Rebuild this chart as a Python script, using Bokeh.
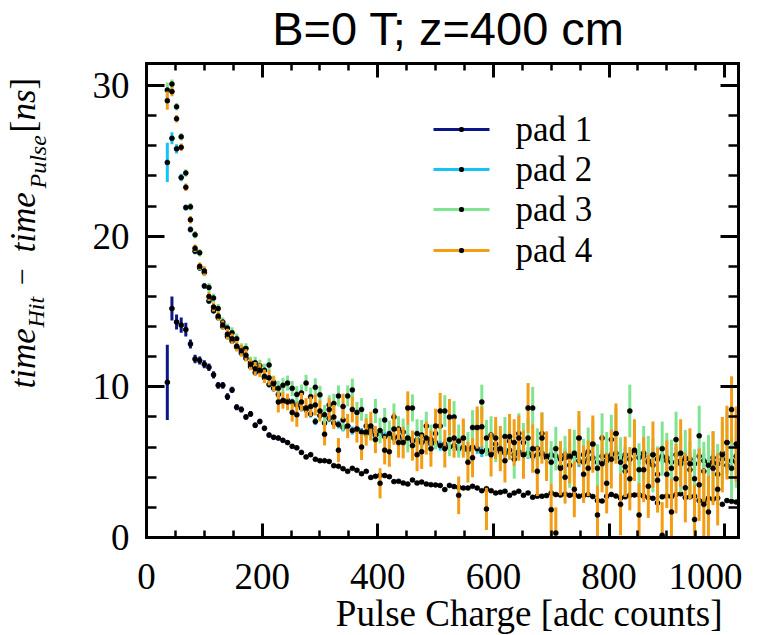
import numpy as np
from bokeh.plotting import figure
from bokeh.models import (LinearAxis, SingleIntervalTicker, Label, BoxAnnotation,
                          ColumnDataSource, Range1d)
from bokeh.embed import file_html
from bokeh.resources import INLINE

# ---------------- data ----------------
BIN_CENTERS = list(range(36, 1021, 8))   # adc counts, bins of 8
HALF_BIN = 4

PAD1_Y = [
    10.3, 15.2, 14.3, 14.1, 13.8, 12.85, 11.85, 11.75, 11.5, 11.3,
    10.8, 10.1, 10.1, 9.35, 9.8, 8.65, 8.5, 8.0, 8.2, 7.45,
    7.7, 7.25, 6.8, 6.65, 6.6, 6.45, 6.3, 6.05, 5.95, 5.65,
    5.35, 5.5, 5.2, 5.1, 5.1, 5.05, 4.77, 4.73, 4.57, 4.39,
    4.59, 4.46, 4.24, 4.39, 3.99, 4.06, 4.13, 4.11, 4.04, 3.71,
    3.73, 3.62, 3.55, 3.82, 3.62, 3.68, 3.55, 3.51, 3.49, 3.46,
    3.18, 3.46, 3.38, 3.33, 3.29, 3.29, 3.40, 3.29, 3.11, 3.24,
    3.11, 2.96, 3.00, 3.07, 2.80, 2.96, 3.07, 2.80, 2.96, 2.67,
    2.74, 2.74, 2.78, 2.95, 2.85, 2.82, 2.88, 2.80, 2.85, 2.74,
    2.80, 2.85, 2.72, 2.45, 2.42, 2.74, 2.86, 2.75, 2.62, 2.70,
    2.80, 2.82, 2.85, 2.74, 2.65, 2.60, 2.30, 2.70, 2.75, 2.72,
    2.85, 2.90, 2.65, 2.70, 2.74, 2.45, 2.40, 2.60, 2.55, 2.62,
    2.20, 2.45, 2.40, 2.35,
]
PAD1_ERR = [
    2.5, 0.8, 0.5, 0.5, 0.45, 0.3, 0.28, 0.27, 0.26, 0.25,
    0.24, 0.23, 0.22, 0.22, 0.21, 0.2, 0.2, 0.19, 0.19, 0.18,
    0.18, 0.17, 0.17, 0.16, 0.16, 0.16, 0.15, 0.15, 0.15, 0.14,
    0.14, 0.14, 0.14, 0.13, 0.13, 0.13, 0.13, 0.13, 0.13, 0.13,
    0.12, 0.12, 0.12, 0.12, 0.12, 0.12, 0.12, 0.12, 0.12, 0.12,
    0.12, 0.12, 0.12, 0.12, 0.12, 0.12, 0.12, 0.12, 0.12, 0.12,
    0.12, 0.12, 0.12, 0.12, 0.12, 0.12, 0.12, 0.12, 0.12, 0.12,
    0.12, 0.12, 0.12, 0.12, 0.12, 0.12, 0.12, 0.12, 0.12, 0.12,
    0.12, 0.12, 0.12, 0.12, 0.12, 0.12, 0.12, 0.12, 0.12, 0.12,
    0.12, 0.12, 0.12, 0.12, 0.12, 0.12, 0.12, 0.12, 0.12, 0.12,
    0.12, 0.12, 0.12, 0.12, 0.12, 0.12, 0.12, 0.12, 0.12, 0.12,
    0.12, 0.12, 0.12, 0.12, 0.12, 0.12, 0.12, 0.12, 0.12, 0.12,
    0.12, 0.12, 0.12, 0.12,
]

PAD2_Y = [
    24.9, 26.5, 25.8, 23.9, 21.9, 20.45, 19.0, 17.9, 16.7, 15.7,
    15.05, 14.6, 14.0, 13.35, 13.05, 12.65, 12.25, 11.9, 11.35, 10.95,
    11.05, 10.6, 10.15, 9.9, 9.5, 9.05, 9.1, 9.0, 8.8, 8.6,
    8.5, 8.2, 7.7, 8.1, 7.6, 7.9, 7.6, 7.5, 7.3, 7.4,
    7.1, 7.2, 7.0, 6.9, 7.0, 6.8, 6.9, 6.7, 6.8, 6.6,
    6.7, 6.5, 6.6, 6.4, 6.5, 6.3, 6.4, 6.2, 6.3, 6.1,
    6.2, 6.0, 6.1, 5.9, 6.0, 5.8, 6.0, 5.9, 5.7, 5.8,
    5.6, 5.9, 5.7, 5.6, 5.8, 5.5, 5.7, 5.5, 5.6, 5.4,
    5.5, 5.6, 5.3, 5.5, 5.4, 5.2, 5.5, 5.3, 5.4, 5.1,
    5.5, 5.2, 5.3, 5.0, 5.4, 5.1, 5.5, 5.6, 5.3, 5.5,
    5.2, 5.6, 5.3, 5.4, 5.1, 5.5, 5.2, 5.4, 5.3, 5.0,
    5.5, 5.1, 5.3, 5.2, 4.9, 5.4, 5.1, 5.0, 5.3, 4.9,
    5.2, 4.8, 5.1, 5.0,
]
PAD2_ERR = [
    1.3, 0.4, 0.3, 0.25, 0.2, 0.2, 0.2, 0.2, 0.2, 0.2,
    0.2, 0.2, 0.2, 0.2, 0.2, 0.2, 0.2, 0.2, 0.2, 0.2,
    0.2, 0.2, 0.2, 0.22, 0.22, 0.22, 0.22, 0.22, 0.24, 0.24,
    0.24, 0.24, 0.24, 0.25, 0.25, 0.25, 0.25, 0.26, 0.26, 0.26,
    0.27, 0.27, 0.27, 0.28, 0.28, 0.28, 0.29, 0.29, 0.29, 0.3,
    0.3, 0.3, 0.3, 0.31, 0.31, 0.31, 0.32, 0.32, 0.32, 0.33,
    0.33, 0.33, 0.34, 0.34, 0.34, 0.35, 0.35, 0.35, 0.36, 0.36,
    0.36, 0.37, 0.37, 0.37, 0.38, 0.38, 0.38, 0.39, 0.39, 0.39,
    0.4, 0.4, 0.4, 0.41, 0.41, 0.41, 0.42, 0.42, 0.42, 0.43,
    0.43, 0.43, 0.44, 0.44, 0.44, 0.45, 0.45, 0.45, 0.46, 0.46,
    0.46, 0.47, 0.47, 0.47, 0.48, 0.48, 0.48, 0.49, 0.49, 0.49,
    0.5, 0.5, 0.5, 0.51, 0.51, 0.51, 0.52, 0.52, 0.52, 0.53,
    0.53, 0.53, 0.54, 0.54,
]

PAD3_Y = [
    29.7, 30.1, 28.6, 26.6, 24.2, 21.95, 20.1, 18.9, 17.6, 16.6,
    15.9, 15.2, 14.3, 13.9, 13.6, 13.2, 12.55, 12.55, 11.6, 11.6,
    11.4, 11.1, 11.45, 10.3, 9.9, 10.1, 10.25, 9.9, 9.5, 9.6,
    10.25, 9.35, 9.97, 9.47, 8.15, 8.8, 8.9, 9.4, 7.8, 9.4,
    9.8, 8.3, 8.5, 7.4, 7.2, 8.4, 7.1, 7.8, 6.9, 8.0,
    7.2, 7.0, 6.6, 8.6, 6.9, 6.8, 7.4, 6.5, 6.9, 7.4,
    8.4, 6.5, 8.0, 6.4, 6.6, 5.9, 7.3, 7.3, 9.0, 6.6,
    6.8, 6.2, 5.8, 6.7, 6.4, 5.2, 6.9, 6.3, 6.6, 8.6,
    5.9, 6.9, 5.4, 5.0, 5.9, 4.7, 5.3, 4.8, 5.6, 6.6,
    5.0, 5.7, 6.2, 4.6, 6.6, 5.4, 6.5, 6.9, 5.0, 4.4,
    8.4, 5.7, 4.5, 5.6, 5.0, 4.8, 4.2, 5.9, 5.1, 4.6,
    6.5, 4.9, 5.2, 4.5, 3.9, 6.75, 4.4, 4.8, 5.0, 4.2,
    5.6, 6.3, 4.6, 5.4,
]
PAD3_ERR = [
    0.5, 0.3, 0.25, 0.25, 0.25, 0.25, 0.25, 0.25, 0.25, 0.3,
    0.3, 0.3, 0.3, 0.3, 0.35, 0.35, 0.35, 0.35, 0.4, 0.4,
    0.4, 0.45, 0.45, 0.45, 0.5, 0.5, 0.5, 0.5, 0.55, 0.55,
    0.55, 0.6, 0.6, 0.6, 0.65, 0.65, 0.65, 0.7, 0.7, 0.7,
    0.75, 0.7, 0.75, 0.8, 0.75, 0.8, 0.85, 0.8, 0.85, 0.9,
    0.85, 0.9, 0.95, 0.9, 0.95, 1.0, 0.95, 1.0, 1.05, 1.0,
    1.05, 1.1, 1.05, 1.1, 1.15, 1.1, 1.15, 1.2, 1.15, 1.2,
    1.25, 1.2, 1.25, 1.3, 1.25, 1.3, 1.35, 1.3, 1.35, 1.4,
    1.35, 1.4, 1.45, 1.4, 1.45, 1.5, 1.45, 1.5, 1.55, 1.5,
    1.55, 1.6, 1.55, 1.6, 1.65, 1.6, 1.65, 1.7, 1.65, 1.7,
    1.75, 1.7, 1.75, 1.8, 1.75, 1.8, 1.85, 1.8, 1.85, 1.9,
    1.85, 1.9, 1.95, 1.9, 1.95, 2.0, 1.95, 2.0, 2.05, 2.0,
    2.05, 2.1, 2.05, 2.1,
]

PAD4_Y = [
    29.0, 29.6, 27.8, 25.9, 23.25, 21.1, 19.2, 18.0, 17.7, 16.0,
    15.3, 14.7, 14.1, 13.5, 13.2, 12.7, 12.4, 12.1, 11.5, 11.2,
    11.1, 10.7, 10.6, 10.2, 9.0, 9.1, 9.0, 8.3, 8.15, 9.0,
    8.6, 8.7, 8.8, 8.4, 6.86, 8.5, 8.0, 5.8, 8.7, 7.4,
    8.5, 7.2, 6.0, 7.0, 7.4, 6.5, 3.6, 5.8, 5.7, 7.2,
    6.3, 6.3, 8.6, 6.1, 5.5, 5.7, 6.6, 5.9, 7.4, 8.4,
    5.9, 8.0, 6.6, 2.8, 6.6, 5.0, 5.3, 7.3, 7.35, 1.9,
    5.5, 6.6, 5.9, 5.1, 6.7, 6.3, 6.6, 5.5, 8.6, 5.9,
    4.4, 6.6, 5.4, 1.85, 0.3, 4.6, 4.0, 5.4, 3.2, 6.6,
    4.2, 4.6, 6.2, 1.5, 4.9, 3.6, 5.2, 6.9, 2.2, 4.7,
    3.9, 5.8, 1.5, 4.5, 3.4, 5.5, 3.8, 0.15, 4.2, 1.7,
    3.9, 5.6, 3.3, 4.9, 1.2, 3.5, 2.2, 1.7, 4.6, 3.2,
    5.5, 6.3, 8.5, 6.2,
]
PAD4_ERR = [
    0.6, 0.3, 0.25, 0.25, 0.25, 0.25, 0.25, 0.25, 0.3, 0.3,
    0.3, 0.3, 0.3, 0.35, 0.35, 0.35, 0.4, 0.4, 0.4, 0.45,
    0.45, 0.45, 0.5, 0.5, 0.7, 0.55, 0.55, 0.6, 0.8, 0.6,
    0.65, 0.65, 0.7, 0.7, 0.75, 0.75, 0.8, 0.8, 0.85, 0.8,
    0.85, 0.9, 0.85, 0.9, 0.95, 0.9, 1.0, 0.95, 1.0, 1.05,
    1.0, 1.05, 1.1, 1.0, 1.1, 1.15, 1.1, 1.2, 1.15, 1.2,
    1.25, 1.2, 1.3, 1.25, 1.3, 1.35, 1.3, 1.4, 1.35, 1.4,
    1.45, 1.4, 1.5, 1.45, 1.5, 1.55, 1.5, 1.6, 1.65, 1.6,
    1.65, 1.7, 1.65, 1.75, 1.7, 1.8, 1.75, 1.8, 1.85, 1.8,
    1.9, 1.85, 1.9, 1.95, 1.9, 2.0, 1.95, 2.0, 2.05, 2.0,
    2.1, 2.05, 2.1, 2.15, 2.1, 2.2, 2.15, 2.2, 2.25, 2.2,
    2.3, 2.25, 2.3, 2.35, 2.3, 2.4, 2.35, 2.4, 2.45, 2.4,
    2.5, 2.45, 2.2, 2.5,
]

SERIES_NAMES = ["pad 1", "pad 2", "pad 3", "pad 4"]
SERIES_COLORS = ["#0c1787", "#14c4f2", "#80e492", "#f39c14"]
SERIES_Y = [PAD1_Y, PAD2_Y, PAD3_Y, PAD4_Y]
SERIES_ERR = [PAD1_ERR, PAD2_ERR, PAD3_ERR, PAD4_ERR]

TITLE = "B=0 T; z=400 cm"
X_LABEL = "Pulse Charge [adc counts]"
X_MAX, Y_MAX = 1024, 31.5

# ---------------- layout (pixels on the canvas) ----------------
W, H = 742, 635
PX0, PX1, PY_TOP, PY_BOT = 146, 738, 62.5, 537   # plotting box inside the canvas
kx = (PX1 - PX0) / X_MAX
ky = (PY_BOT - PY_TOP) / Y_MAX
x_range = Range1d(-PX0 / kx, X_MAX + (W - PX1) / kx)
y_range = Range1d(-(H - PY_BOT) / ky, Y_MAX + PY_TOP / ky)

p = figure(width=W, height=H, x_range=x_range, y_range=y_range,
           output_backend="svg", toolbar_location=None, title=None, min_border=0)
p.grid.visible = False
p.outline_line_color = None
p.background_fill_color = "white"
p.border_fill_color = "white"

xt = SingleIntervalTicker(interval=200, num_minor_ticks=4)
yt = SingleIntervalTicker(interval=10, num_minor_ticks=5)

def style_axis(ax, ticker, loc, bounds, tick_in, minor_in, labels, standoff):
    ax.ticker = ticker
    ax.fixed_location = loc
    ax.bounds = bounds
    ax.axis_line_width = 3
    ax.axis_line_color = "black"
    ax.axis_line_cap = "square"
    ax.major_tick_in = tick_in
    ax.major_tick_out = 0
    ax.minor_tick_in = minor_in
    ax.minor_tick_out = 0
    ax.major_tick_line_width = 3
    ax.minor_tick_line_width = 2.5
    ax.major_tick_line_color = "black"
    ax.minor_tick_line_color = "black"
    ax.major_label_text_font = "Liberation Serif"
    ax.major_label_text_color = "black"
    ax.major_label_text_font_size = "37px"
    ax.major_label_standoff = standoff
    if not labels:
        ax.major_label_text_alpha = 0

style_axis(p.xaxis[0], xt, 0, (0, X_MAX), 14, 7, True, 26)
style_axis(p.yaxis[0], yt, 0, (0, Y_MAX), 18, 10, True, 17)
tx = LinearAxis()
style_axis(tx, xt, Y_MAX, (0, X_MAX), 14, 7, False, 0)
p.add_layout(tx, "above")
ry = LinearAxis()
style_axis(ry, yt, X_MAX, (0, Y_MAX), 18, 10, False, 0)
p.add_layout(ry, "right")

# ---------------- data marks ----------------
xc = np.array(BIN_CENTERS, dtype=float)
for ys, es, col in zip(SERIES_Y, SERIES_ERR, SERIES_COLORS):
    n = min(len(xc), len(ys), len(es))
    x = xc[:n]
    y = np.array(ys[:n], dtype=float)
    e = np.array(es[:n], dtype=float)
    src = ColumnDataSource(dict(x=x, y=y,
                                lo=np.clip(y - e, 0, Y_MAX), hi=np.clip(y + e, 0, Y_MAX),
                                xl=x - HALF_BIN, xr=x + HALF_BIN))
    p.segment(x0="x", y0="lo", x1="x", y1="hi", source=src,
              line_color=col, line_width=3)
    p.segment(x0="xl", y0="y", x1="xr", y1="y", source=src,
              line_color=col, line_width=3)
    p.scatter(x="x", y="y", source=src, size=5, fill_color="black",
              line_color="black", line_width=0.5)

# ---------------- texts (screen units: from canvas bottom-left) ----------------
def lab(text, x, y_top, size, style="normal", font="Liberation Serif", align="left",
        angle=0.0):
    # y_top is measured from the top of the canvas; text is centred on (x, y_top)
    p.add_layout(Label(x=x, y=H - y_top, x_units="screen", y_units="screen", text=text,
                       text_font=font, text_font_size=size, text_font_style=style,
                       text_align=align, text_baseline="middle", angle=angle,
                       text_color="black"))

lab(TITLE, 448, 28, "47px", font="Liberation Sans", align="center")
lab(X_LABEL, 722, 613, "37px", align="right")

R = np.pi / 2
lab("time", 23, 388, "35px", style="italic", angle=R)
lab("Hit", 35, 327, "24px", style="italic", angle=R)
lab("\u2212", 22, 276, "30px", align="center", angle=R)
lab("time", 23, 252, "35px", style="italic", angle=R)
lab("Pulse", 37, 188, "24px", style="italic", angle=R)
lab("[", 23, 132, "35px", angle=R)
lab("ns", 23, 120, "35px", style="italic", angle=R)
lab("]", 23, 89, "35px", angle=R)

# legend (manual)
LEG_X0, LEG_X1, LEG_DOT, LEG_TX = 433, 489, 461, 515
LEG_Y = [129, 169, 209, 250]
for name, col, yy in zip(SERIES_NAMES, SERIES_COLORS, LEG_Y):
    yb = H - yy
    p.add_layout(BoxAnnotation(left=LEG_X0, right=LEG_X1, bottom=yb - 1.5, top=yb + 1.5,
                               left_units="screen", right_units="screen",
                               bottom_units="screen", top_units="screen",
                               fill_color=col, fill_alpha=1.0, line_color=None))
    p.add_layout(BoxAnnotation(left=LEG_DOT - 2.5, right=LEG_DOT + 2.5,
                               bottom=yb - 2.5, top=yb + 2.5,
                               left_units="screen", right_units="screen",
                               bottom_units="screen", top_units="screen",
                               fill_color="black", fill_alpha=1.0, line_color=None,
                               border_radius=2))
    lab(name, LEG_TX, yy, "35px")

open("out.html", "w").write(file_html(p, INLINE))
